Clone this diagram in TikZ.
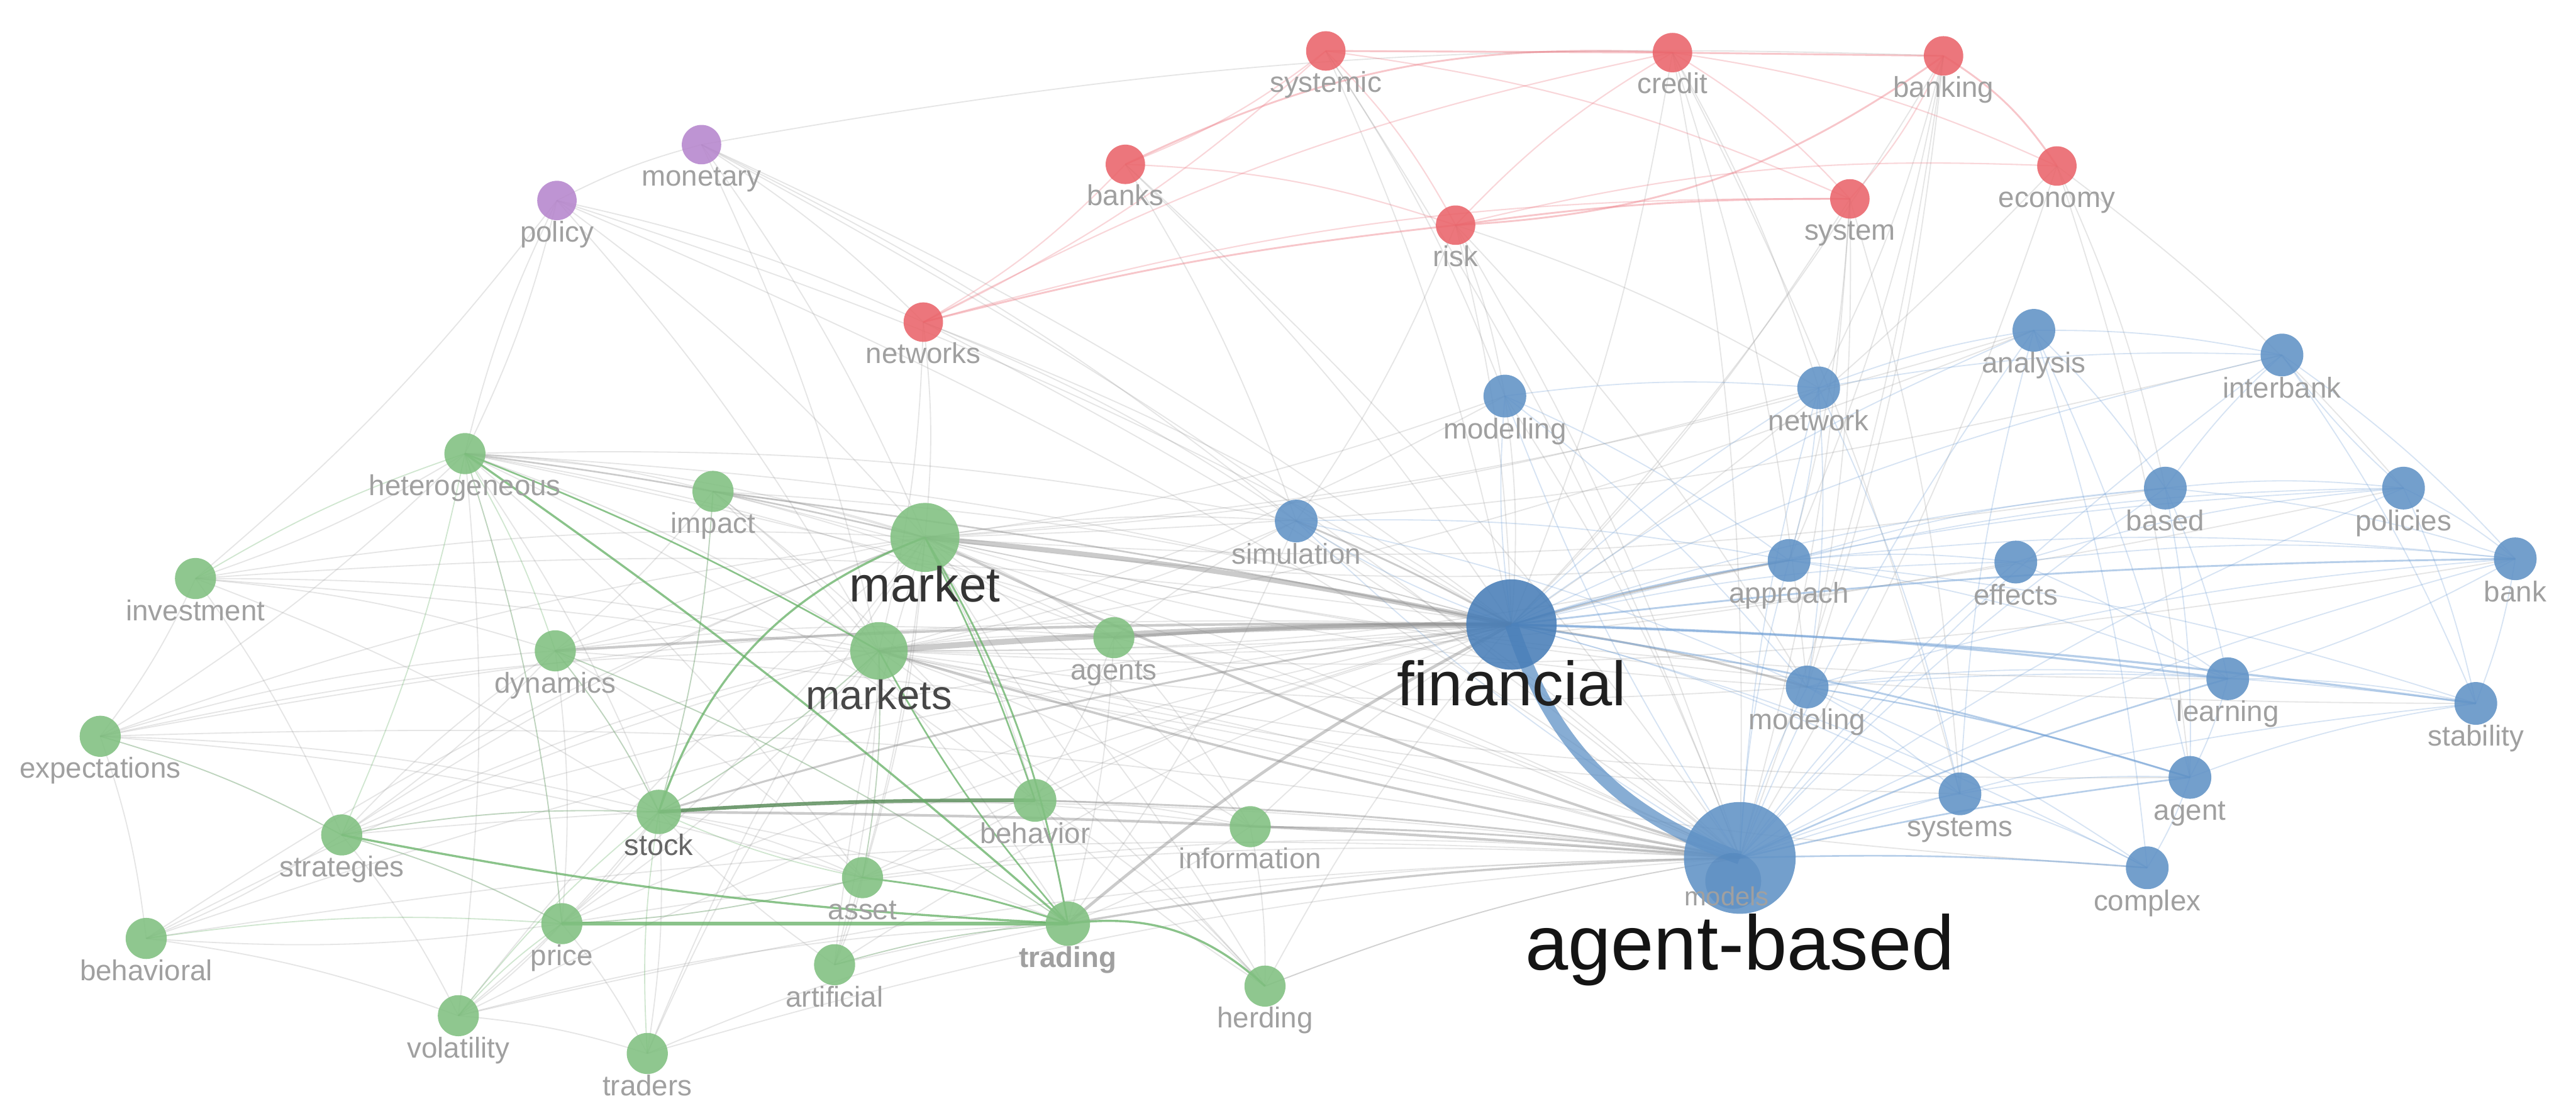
\documentclass[tikz,border=0pt]{standalone}
\usepackage{fontspec}
\setmainfont{Liberation Sans}
\usetikzlibrary{calc}
\pgfdeclarelayer{edges}
\pgfdeclarelayer{fg}
\pgfsetlayers{edges,main,fg}
\definecolor{cg}{RGB}{128,192,128}
\definecolor{cb}{RGB}{96,146,198}
\definecolor{cbd}{RGB}{72,126,184}
\definecolor{cr}{RGB}{234,100,106}
\definecolor{cp}{RGB}{182,134,205}
\definecolor{tx}{RGB}{160,160,160}
\definecolor{eg}{RGB}{140,140,140}
\definecolor{egr}{RGB}{100,175,100}
\definecolor{ebl}{RGB}{110,158,212}
\definecolor{ere}{RGB}{236,120,130}
\newcommand\kwnode[8]{%
  \node[kw, fill=#5, minimum size={2*#4}] (#1) at (#2,#3) {};
  \begin{pgfonlayer}{fg}\node[#7] (#1-t) at ($(#1.center)+(0,{#4+#8})$) {#6};\end{pgfonlayer}}
\tikzset{
  kw/.style={circle, inner sep=0pt, fill opacity=0.88, draw opacity=0.3, line width=0.6pt},
  sm/.style={anchor=base, inner sep=0pt, text=tx, font=\fontsize{17.5}{17.5}\selectfont},
  fe/.style={draw=eg, line width=0.7pt, draw opacity=0.22},
  fg/.style={draw=egr, line width=0.7pt, draw opacity=0.3},
  fb/.style={draw=ebl, line width=0.7pt, draw opacity=0.28},
  fr/.style={draw=ere, line width=0.8pt, draw opacity=0.3},
  me/.style={draw=eg, draw opacity=0.45},
  mg/.style={draw=egr, draw opacity=0.75},
  mb/.style={draw=ebl, draw opacity=0.5},
  mr/.style={draw=ere, draw opacity=0.42, line width=1.1pt}
}
\begin{document}
\begin{tikzpicture}[x=1pt,y=-1pt]
\begin{pgfonlayer}{edges}
\fill[white] (0,0) rectangle (1568,680);
\end{pgfonlayer}
\useasboundingbox (0,0) rectangle (1568,680);
% red cluster
\kwnode{sysc}{807}{31}{12}{cr}{systemic}{sm}{13}
\kwnode{cred}{1018}{32}{12}{cr}{credit}{sm}{13}
\kwnode{bkg}{1183}{34}{12}{cr}{banking}{sm}{13}
\kwnode{bks}{685}{100}{12}{cr}{banks}{sm}{13}
\kwnode{risk}{886}{137}{12}{cr}{risk}{sm}{13}
\kwnode{syst}{1126}{121}{12}{cr}{system}{sm}{13}
\kwnode{eco}{1252}{101}{12}{cr}{economy}{sm}{13}
\kwnode{nets}{562}{196}{12}{cr}{networks}{sm}{13}
% purple cluster
\kwnode{mon}{427}{88}{12}{cp}{monetary}{sm}{13}
\kwnode{pol}{339}{122}{12}{cp}{policy}{sm}{13}
% blue cluster
\kwnode{ana}{1238}{201}{13}{cb}{analysis}{sm}{13}
\kwnode{ibk}{1389}{216}{13}{cb}{interbank}{sm}{13}
\kwnode{mdl}{916}{241}{13}{cb}{modelling}{sm}{13}
\kwnode{net}{1107}{236}{13}{cb}{network}{sm}{13}
\kwnode{bsd}{1318}{297}{13}{cb}{based}{sm}{13}
\kwnode{pols}{1463}{297}{13}{cb}{policies}{sm}{13}
\kwnode{sim}{789}{317}{13}{cb}{simulation}{sm}{13}
\kwnode{app}{1089}{341}{13}{cb}{approach}{sm}{13}
\kwnode{eff}{1227}{342}{13}{cb}{effects}{sm}{13}
\kwnode{bnk}{1531}{340}{13}{cb}{bank}{sm}{13}
\kwnode{lrn}{1356}{413}{13}{cb}{learning}{sm}{13}
\kwnode{mdg}{1100}{418}{13}{cb}{modeling}{sm}{13}
\kwnode{stb}{1507}{428}{13}{cb}{stability}{sm}{13}
\kwnode{agn}{1333}{473}{13}{cb}{agent}{sm}{13}
\kwnode{sys}{1193}{483}{13}{cb}{systems}{sm}{13}
\kwnode{cpx}{1307}{528}{13}{cb}{complex}{sm}{13}
\kwnode{fin}{920}{380}{27.5}{cbd}{financial}{anchor=base, inner sep=0pt, text={black!88}, font=\fontsize{38}{38}\selectfont}{22}
\kwnode{abm}{1059}{522}{34}{cb}{agent-based}{anchor=base, inner sep=0pt, text={black!92}, font=\fontsize{47}{47}\selectfont}{34}
\node[kw, fill=cbd, fill opacity=0.35, minimum size=34] (mods) at (1055,536) {};
\begin{pgfonlayer}{fg}\node[sm, font=\fontsize{16}{16}\selectfont] (mods-t) at ($(mods.center)+(-4,15)$) {models};\end{pgfonlayer}
% green cluster
\kwnode{het}{283}{276}{12.5}{cg}{heterogeneous}{sm}{13}
\kwnode{imp}{434}{299}{12.5}{cg}{impact}{sm}{13}
\kwnode{mkt}{563}{327}{21}{cg}{market}{anchor=base, inner sep=0pt, text={black!80}, font=\fontsize{30}{30}\selectfont}{18}
\kwnode{inv}{119}{352}{12.5}{cg}{investment}{sm}{13}
\kwnode{dyn}{338}{396}{12.5}{cg}{dynamics}{sm}{13}
\kwnode{mks}{535}{396}{17.5}{cg}{markets}{anchor=base, inner sep=0pt, text={black!72}, font=\fontsize{25}{25}\selectfont}{18}
\kwnode{agt}{678}{388}{12.5}{cg}{agents}{sm}{13}
\kwnode{exp}{61}{448}{12.5}{cg}{expectations}{sm}{13}
\kwnode{stk}{401}{494}{13.5}{cg}{stock}{anchor=base, inner sep=0pt, text={black!60}, font=\fontsize{18}{18}\selectfont}{13}
\kwnode{beh}{630}{487}{13}{cg}{behavior}{sm}{13}
\kwnode{inf}{761}{503}{12.5}{cg}{information}{sm}{13}
\kwnode{str}{208}{508}{12.5}{cg}{strategies}{sm}{13}
\kwnode{ast}{525}{534}{12.5}{cg}{asset}{sm}{13}
\kwnode{prc}{342}{562}{12.5}{cg}{price}{sm}{13}
\kwnode{trd}{650}{562}{13.5}{cg}{trading}{anchor=base, inner sep=0pt, text=tx, font=\fontsize{17.5}{17.5}\selectfont\bfseries}{13}
\kwnode{bhv}{89}{571}{12.5}{cg}{behavioral}{sm}{13}
\kwnode{art}{508}{587}{12.5}{cg}{artificial}{sm}{13}
\kwnode{hrd}{770}{600}{12.5}{cg}{herding}{sm}{13}
\kwnode{vol}{279}{618}{12.5}{cg}{volatility}{sm}{13}
\kwnode{trs}{394}{641}{12.5}{cg}{traders}{sm}{13}

\begin{pgfonlayer}{edges}
% faint grey links
\foreach \a/\b in {het/mkt, het/mks, het/stk, het/prc, het/vol, het/fin, het/abm, het/imp, het/agt, het/exp, het/inv, het/beh, het/ast, het/sim, het/pol,
 imp/mkt, imp/fin, imp/abm, imp/mks, imp/stk, imp/trd, imp/dyn, imp/agt, imp/beh,
 inv/mkt, inv/fin, inv/abm, inv/dyn, inv/str, inv/mks, inv/exp, inv/stk,
 exp/dyn, exp/mkt, exp/mks, exp/str, exp/fin, exp/abm, exp/bhv, exp/stk, exp/ast,
 dyn/mkt, dyn/abm, dyn/stk, dyn/prc, dyn/trd, dyn/agt, dyn/str, dyn/ast,
 mks/stk, mks/ast, mks/agt, mks/inf, mks/hrd, mks/art, mks/prc,
 mkt/agt, mkt/beh, mkt/ast, mkt/sim, mkt/hrd, mkt/inf, mkt/dyn, mkt/prc, mkt/art,
 agt/abm, agt/beh, agt/sim, agt/trd, agt/inf,
 stk/prc, stk/ast, stk/trd, stk/trs, stk/vol, stk/inf,
 beh/fin, beh/trd, beh/hrd, beh/inf, beh/ast,
 inf/fin, inf/trd, inf/hrd,
 str/mkt, str/mks, str/stk, str/fin, str/abm, str/bhv, str/prc, str/dyn, str/vol,
 ast/fin, ast/abm, ast/prc, ast/art,
 prc/abm, prc/fin, prc/vol, prc/bhv, prc/trs,
 bhv/fin, bhv/abm, bhv/mkt, bhv/vol, bhv/mks,
 art/fin, art/abm, art/mkt, art/stk, art/trd,
 hrd/fin, hrd/abm, hrd/mkt, hrd/beh,
 vol/fin, vol/abm, vol/trd, vol/mkt, vol/trs,
 trs/mkt, trs/mks, trs/abm, trs/trd,
 pol/het, pol/mkt, pol/abm, pol/fin, pol/mks, pol/inv,
 mon/abm, mon/fin, mon/mkt, mon/mks,
 nets/mkt, nets/fin, nets/abm, nets/mks, nets/sim,
 bks/abm, bks/fin, bks/sim,
 sysc/fin, sysc/abm, sysc/mdl,
 cred/fin, cred/abm, cred/mdg, cred/sys, cred/net,
 bkg/fin, bkg/abm, bkg/app, bkg/net, bkg/mdg,
 risk/fin, risk/abm, risk/mdg, risk/mdl, risk/sim, risk/net,
 syst/fin, syst/abm, syst/sys, syst/mdg, syst/app,
 eco/fin, eco/abm, eco/agn, eco/bsd, eco/pols,
 sim/abm, sim/mks, sim/trd, mdl/fin, mdl/abm, mdl/mkt, mdl/mks,
 net/mkt, ana/mks, ana/mkt, app/mkt, app/mks, mdg/mkt, mdg/mks, lrn/mkt, agn/mks, cpx/mks, sys/mks, bnk/mks, stb/mkt, eff/mks, bsd/mkt, pols/mks, ibk/mkt,
 hrd/abm, mon/bkg, pol/mon, mon/nets, pol/nets, mon/sim}
  \draw[fe] (\a.center) to[bend left=6] (\b.center);
% faint green links
\foreach \a/\b in {het/dyn, het/str, het/prc, dyn/stk, dyn/trd, str/stk, str/prc, bhv/prc, vol/prc, vol/stk, ast/stk, ast/prc, art/trd, trs/stk, mks/ast, mks/stk, imp/stk, exp/str, inv/het}
  \draw[fg] (\a.center) to[bend left=6] (\b.center);
% faint blue links
\foreach \a/\b in {fin/ana, fin/ibk, fin/mdl, fin/net, fin/bsd, fin/pols, fin/sim, fin/eff, fin/sys, fin/cpx,
 abm/ana, abm/ibk, abm/mdl, abm/net, abm/bsd, abm/pols, abm/sim, abm/app, abm/eff, abm/bnk, abm/mdg, abm/stb, abm/sys,
 mdg/cpx, mdg/lrn, mdg/stb, mdg/bnk, app/bsd, app/pols, app/bnk, app/eff, app/lrn, app/stb, eff/bnk, eff/lrn, eff/pols,
 bsd/pols, bsd/agn, bsd/bnk, bsd/ibk, bsd/lrn, pols/stb, pols/bnk, pols/ibk, bnk/stb, bnk/lrn, lrn/stb, lrn/agn, agn/stb,
 agn/cpx, sys/agn, sys/cpx, sys/ana, net/ana, net/ibk, ana/ibk, ana/agn, ana/bsd, ibk/stb, ibk/bnk, net/app, net/mdg,
 mdl/app, mdl/net, sim/app, sim/mdg, mdl/mdg, net/sys, ana/cpx, mdg/sys}
  \draw[fb] (\a.center) to[bend left=6] (\b.center);
% faint red links
\foreach \a/\b in {sysc/risk, sysc/bks, bks/risk, risk/cred, cred/syst, cred/eco, bkg/syst, nets/syst, risk/eco, sysc/nets, bks/nets, sysc/syst, nets/cred}
  \draw[fr] (\a.center) to[bend left=8] (\b.center);
% stronger red links
\draw[mr] (sysc.center) -- (cred.center);
\draw[mr] (cred.center) -- (bkg.center);
\draw[mr] (risk.center) to[bend left=4] (syst.center);
\draw[mr] (nets.center) to[bend left=4] (risk.center);
\draw[mr] (bks.center) to[bend left=14] (cred.center);
\draw[mr] (risk.center) to[bend right=16] (bkg.center);
\draw[mr] (bkg.center) to[bend left=12] (eco.center);
% stronger grey links
\draw[me, line width=3pt] (mkt.center) to[bend left=3] (fin.center);
\draw[me, line width=3.6pt] (mks.center) to[bend left=2] (fin.center);
\draw[me, line width=2pt] (agt.center) to[bend left=2] (fin.center);
\draw[me, line width=1.6pt] (dyn.center) to[bend left=2] (fin.center);
\draw[me, line width=1.6pt] (stk.center) to[bend left=2] (abm.center);
\draw[me, line width=1.2pt] (stk.center) to[bend left=4] (fin.center);
\draw[me, line width=1.8pt] (trd.center) to[bend left=6] (fin.center);
\draw[me, line width=1.3pt] (trd.center) to[bend left=4] (abm.center);
\draw[me, line width=1.5pt] (mkt.center) to[bend right=4] (abm.center);
\draw[me, line width=1.4pt] (mks.center) to[bend right=3] (abm.center);
\draw[me, line width=1.1pt] (beh.center) to[bend left=3] (abm.center);
\draw[me, line width=1.1pt] (inf.center) to[bend left=3] (abm.center);
\draw[me, line width=1.1pt] (sim.center) to[bend left=3] (fin.center);
\draw[me, line width=1.3pt] (fin.center) to[bend left=4] (mdg.center);
\draw[me, line width=1.1pt] (fin.center) to[bend left=3] (app.center);
\draw[me, line width=1pt] (het.center) to[bend left=3] (mkt.center);
\draw[me, line width=1pt] (imp.center) to[bend left=2] (fin.center);
% stronger green links
\draw[mg, line width=2.2pt, draw=egr!75!black] (stk.center) to[bend left=2] (beh.center);
\draw[mg, line width=2pt] (prc.center) -- (trd.center);
\draw[mg, line width=1.3pt] (str.center) to[bend right=4] (trd.center);
\draw[mg, line width=1.3pt] (het.center) to[bend left=3] (trd.center);
\draw[mg, line width=1.3pt] (mkt.center) to[bend right=25] (stk.center);
\draw[mg, line width=1.1pt] (mkt.center) to[bend left=10] (trd.center);
\draw[mg, line width=1.3pt] (trd.center) to[bend left=25] (hrd.center);
\draw[mg, line width=1.1pt] (ast.center) to[bend left=6] (trd.center);
\draw[mg, line width=1pt] (mks.center) to[bend right=6] (trd.center);
\draw[mg, line width=1pt] (mkt.center) to[bend left=4] (beh.center);
\draw[mg, line width=1pt] (het.center) to[bend left=4] (mks.center);
% stronger blue links
\draw[draw=cb, line width=8pt, draw opacity=0.75] (fin.center) to[bend right=26] (abm.center);
\draw[mb, line width=1.3pt] (fin.center) to[bend left=3] (lrn.center);
\draw[mb, line width=1.3pt] (fin.center) to[bend left=3] (stb.center);
\draw[mb, line width=1.1pt] (fin.center) to[bend left=3] (bnk.center);
\draw[mb, line width=1.1pt] (fin.center) to[bend left=4] (agn.center);
\draw[mb, line width=1pt] (abm.center) to[bend left=3] (agn.center);
\draw[mb, line width=1pt] (abm.center) to[bend left=3] (cpx.center);
\draw[mb, line width=1pt] (abm.center) to[bend left=4] (lrn.center);
\draw[mb, line width=0.9pt] (mdg.center) to[bend left=4] (agn.center);
\draw[mb, line width=0.9pt] (fin.center) to[bend left=4] (app.center);
\end{pgfonlayer}
\end{tikzpicture}
\end{document}
